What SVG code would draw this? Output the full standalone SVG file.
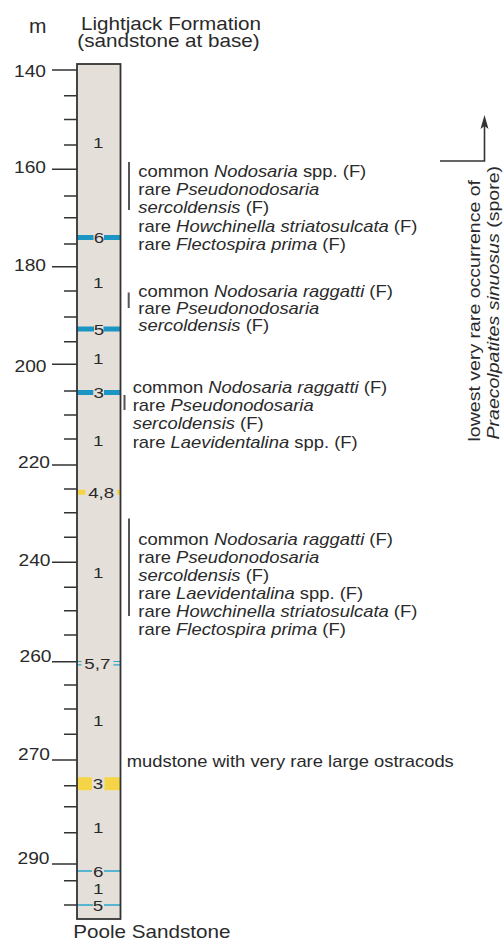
<svg xmlns="http://www.w3.org/2000/svg" width="503" height="943" viewBox="0 0 503 943">
<style>
text{font-family:"Liberation Sans",Arial,sans-serif;fill:#2a2a2a}
.b{font-size:16px}
.h{font-size:17.5px}
.s{font-size:17px;text-anchor:end}
.d{font-size:15px;text-anchor:middle}
.i{font-style:italic}
.tk{stroke:#333;stroke-width:1.6}
.bar{stroke:#555;stroke-width:2}
.bt{stroke:#1b95c4;stroke-width:5}
.bn{stroke:#2aa6d0;stroke-width:1.5}
.yl{stroke:#f5d547}
</style>
<g id="header">
<text style="font-size:20px" transform="translate(29 33) scale(1.05 1)">m</text>
<text class="h" transform="translate(81 29.5) scale(1.18 1)">Lightjack Formation</text>
<text class="h" transform="translate(77.3 47) scale(1.18 1)">(sandstone at base)</text>
</g>
<g id="scale">
<g class="tk">
<path d="M52 70H77M52 169.3H77M52 266.7H77M52 364.3H77M52 465H77M52 562.3H77M52 661.7H77M52 760H77M52 864H77"/>
<path d="M64 95.7H77M64 119.5H77M64 145H77M64 196H77M64 217.7H77M64 244H77M64 291H77M64 317H77M64 341.7H77M64 391H77M64 415H77M64 439H77M64 489H77M64 512.7H77M64 537.3H77M64 587.3H77M64 610.7H77M64 635H77M64 685H77M64 709H77M64 734.3H77M64 785.7H77M64 806.7H77M64 832.7H77M64 880.7H77M64 905H77"/>
</g>
<text class="s" transform="translate(46 76.5) scale(1.13 1)">140</text>
<text class="s" transform="translate(46 173) scale(1.13 1)">160</text>
<text class="s" transform="translate(46 271) scale(1.13 1)">180</text>
<text class="s" transform="translate(46.5 371.5) scale(1.13 1)">200</text>
<text class="s" transform="translate(50 467.5) scale(1.13 1)">220</text>
<text class="s" transform="translate(50.5 566) scale(1.13 1)">240</text>
<text class="s" transform="translate(51.5 661.5) scale(1.13 1)">260</text>
<text class="s" transform="translate(50 760) scale(1.13 1)">270</text>
<text class="s" transform="translate(49.5 864) scale(1.13 1)">290</text>
</g>
<g id="column">
<rect x="77" y="64" width="43.5" height="855" fill="#e4e0d9"/>
<g id="beds">
<path class="bt" d="M77 237.5H93.5M104 237.5H120.5"/>
<path class="bt" d="M77 329H94M103.5 329H120.5"/>
<path class="bt" d="M77 392.5H93.3M104 392.5H120.5"/>
<path class="bt yl" d="M77 492.3H85.5M117 492.3H120.5"/>
<path class="bn" d="M77 661.5H81.5M77 664.8H81.5M113.5 661.5H120.5M113.5 664.8H120.5" style="stroke-width:1.2"/>
<path class="yl" style="stroke-width:13" d="M77 783.7H92M104.5 783.7H120.5"/>
<path class="bn" d="M77 871H92M104 871H120.5"/>
<path class="bn" d="M77 905H93M104 905H120.5"/>
</g>
<rect x="77" y="64" width="43.5" height="855" fill="none" stroke="#333" stroke-width="1.8"/>
<g id="bed-labels">
<text class="d" transform="translate(98.3 148) scale(1.25 1)">1</text>
<text class="d" transform="translate(99 243) scale(1.25 1)">6</text>
<text class="d" transform="translate(98.3 288) scale(1.25 1)">1</text>
<text class="d" transform="translate(99 334.5) scale(1.25 1)">5</text>
<text class="d" transform="translate(98.3 364) scale(1.25 1)">1</text>
<text class="d" transform="translate(98.7 397.5) scale(1.25 1)">3</text>
<text class="d" transform="translate(98.3 446) scale(1.25 1)">1</text>
<text class="d" transform="translate(101.2 497.5) scale(1.25 1)">4,8</text>
<text class="d" transform="translate(98.3 578) scale(1.25 1)">1</text>
<text class="d" transform="translate(97.3 668.5) scale(1.25 1)">5,7</text>
<text class="d" transform="translate(98.3 726) scale(1.25 1)">1</text>
<text class="d" transform="translate(98 789) scale(1.25 1)">3</text>
<text class="d" transform="translate(98.3 833) scale(1.25 1)">1</text>
<text class="d" transform="translate(98.3 876.5) scale(1.25 1)">6</text>
<text class="d" transform="translate(98.3 893.5) scale(1.25 1)">1</text>
<text class="d" transform="translate(98 911) scale(1.25 1)">5</text>
</g>
<text class="h" transform="translate(73.3 938) scale(1.18 1)">Poole Sandstone</text>
</g>
<g id="connectors">
<path class="bar" d="M129 162V210M128.7 292.5V308M124.5 395V410M129 518.5V616"/>
<path d="M440 161H484.5V124" fill="none" stroke="#333" stroke-width="1.6"/>
<path d="M484.5 115L488.5 129L484.5 126L480.5 129Z" fill="#333"/>
</g>
<g id="block1">
<text class="b" transform="translate(138.3 176.5) scale(1.15 1)">common <tspan class="i">Nodosaria</tspan> spp. (F)</text>
<text class="b" transform="translate(138.3 194.8) scale(1.15 1)">rare <tspan class="i">Pseudonodosaria</tspan></text>
<text class="b" transform="translate(138.3 213) scale(1.15 1)"><tspan class="i">sercoldensis</tspan> (F)</text>
<text class="b" transform="translate(138.3 231.5) scale(1.15 1)">rare <tspan class="i">Howchinella striatosulcata</tspan> (F)</text>
<text class="b" transform="translate(138.3 249.8) scale(1.15 1)">rare <tspan class="i">Flectospira prima</tspan> (F)</text>
</g>
<g id="block2">
<text class="b" transform="translate(138.3 296.5) scale(1.15 1)">common <tspan class="i">Nodosaria raggatti</tspan> (F)</text>
<text class="b" transform="translate(138.3 313.8) scale(1.15 1)">rare <tspan class="i">Pseudonodosaria</tspan></text>
<text class="b" transform="translate(138.3 331) scale(1.15 1)"><tspan class="i">sercoldensis</tspan> (F)</text>
</g>
<g id="block3">
<text class="b" transform="translate(132.7 392.5) scale(1.15 1)">common <tspan class="i">Nodosaria raggatti</tspan> (F)</text>
<text class="b" transform="translate(132.7 410.7) scale(1.15 1)">rare <tspan class="i">Pseudonodosaria</tspan></text>
<text class="b" transform="translate(132.7 429) scale(1.15 1)"><tspan class="i">sercoldensis</tspan> (F)</text>
<text class="b" transform="translate(132.7 447.5) scale(1.15 1)">rare <tspan class="i">Laevidentalina</tspan> spp. (F)</text>
</g>
<g id="block4">
<text class="b" transform="translate(138.3 545) scale(1.15 1)">common <tspan class="i">Nodosaria raggatti</tspan> (F)</text>
<text class="b" transform="translate(138.3 563) scale(1.15 1)">rare <tspan class="i">Pseudonodosaria</tspan></text>
<text class="b" transform="translate(138.3 581) scale(1.15 1)"><tspan class="i">sercoldensis</tspan> (F)</text>
<text class="b" transform="translate(138.3 598.5) scale(1.15 1)">rare <tspan class="i">Laevidentalina</tspan> spp. (F)</text>
<text class="b" transform="translate(138.3 616.5) scale(1.15 1)">rare <tspan class="i">Howchinella striatosulcata</tspan> (F)</text>
<text class="b" transform="translate(138.3 634.5) scale(1.15 1)">rare <tspan class="i">Flectospira prima</tspan> (F)</text>
</g>
<g id="mudstone">
<text class="b" transform="translate(126.7 767) scale(1.15 1)">mudstone with very rare large ostracods</text>
</g>
<g id="spore">
<text class="b" style="font-size:17px" transform="translate(480 441.5) rotate(-90) scale(1.15 1)">lowest very rare occurrence of</text>
<text class="b" style="font-size:17px" transform="translate(498.5 439.5) rotate(-90) scale(1.15 1)"><tspan class="i">Praecolpatites sinuosus</tspan> (spore)</text>
</g>
</svg>
